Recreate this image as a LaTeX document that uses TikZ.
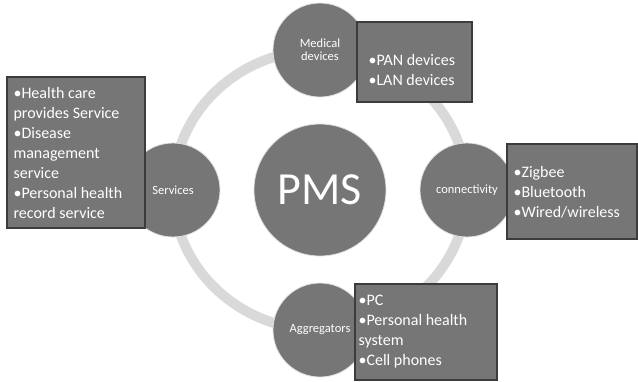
\documentclass[tikz,border=0pt]{standalone}
\usepackage{fontspec}
\setmainfont{Carlito}
\usetikzlibrary{positioning}
\definecolor{pmsgris}{HTML}{767676}
\definecolor{anillo}{HTML}{D9D9D9}
\definecolor{borde}{HTML}{3C3C3C}

\begin{document}
\begin{tikzpicture}[x=1pt, y=-1pt,
      hub/.style={circle, fill=pmsgris, draw=white!88!black, line width=0.8pt,
                  text=white, inner sep=0pt, align=center},
      petal/.style={hub, minimum size=94pt, font=\fontsize{12.5}{13}\selectfont},
      listbox/.style={rectangle, draw=borde, line width=1.3pt, fill=pmsgris},
      listtext/.style={text=white, align=left, inner sep=0pt,
                       font=\fontsize{16}{20}\selectfont}]
    \useasboundingbox (0,0) rectangle (638,381);
    % ring behind the circles
    \draw[anillo, line width=10pt] (320,190) ellipse [x radius=147, y radius=140];
    \node[hub, minimum size=132pt, font=\fontsize{46}{50}\selectfont] (pms) at (320,190) {PMS};
    \node[petal] (med) at (320,50) {Medical\\devices};
    \node[petal] (con) at (467,190) {connectivity};
    \node[petal] (agg) at (320,330) {Aggregators};
    \node[petal] (ser) at (173,190) {Services};
    % lists
    \node[listbox, minimum width=115pt, minimum height=80pt] (medbox) at (414.5,62) {};
    \node[listbox, minimum width=138pt, minimum height=151pt] (serbox) at (76,152.5) {};
    \node[listbox, minimum width=130pt, minimum height=95pt] (conbox) at (572,191.5) {};
    \node[listbox, minimum width=142pt, minimum height=96pt] (aggbox) at (426,332) {};
    \node[listtext, right=12pt of medbox.west, yshift=-8pt] (medlist)
      {\textbullet PAN devices\\ \textbullet LAN devices};
    \node[listtext, right=7pt of serbox.west] (serlist)
      {\textbullet Health care\\ provides Service\\ \textbullet Disease\\ management\\ service\\
       \textbullet Personal health\\ record service};
    \node[listtext, right=7pt of conbox.west, yshift=-1pt] (conlist)
      {\textbullet Zigbee\\ \textbullet Bluetooth\\ \textbullet Wired/wireless};
    \node[listtext, right=4pt of aggbox.west] (agglist)
      {\textbullet PC\\ \textbullet Personal health\\ system\\ \textbullet Cell phones};
  \end{tikzpicture}
\end{document}
